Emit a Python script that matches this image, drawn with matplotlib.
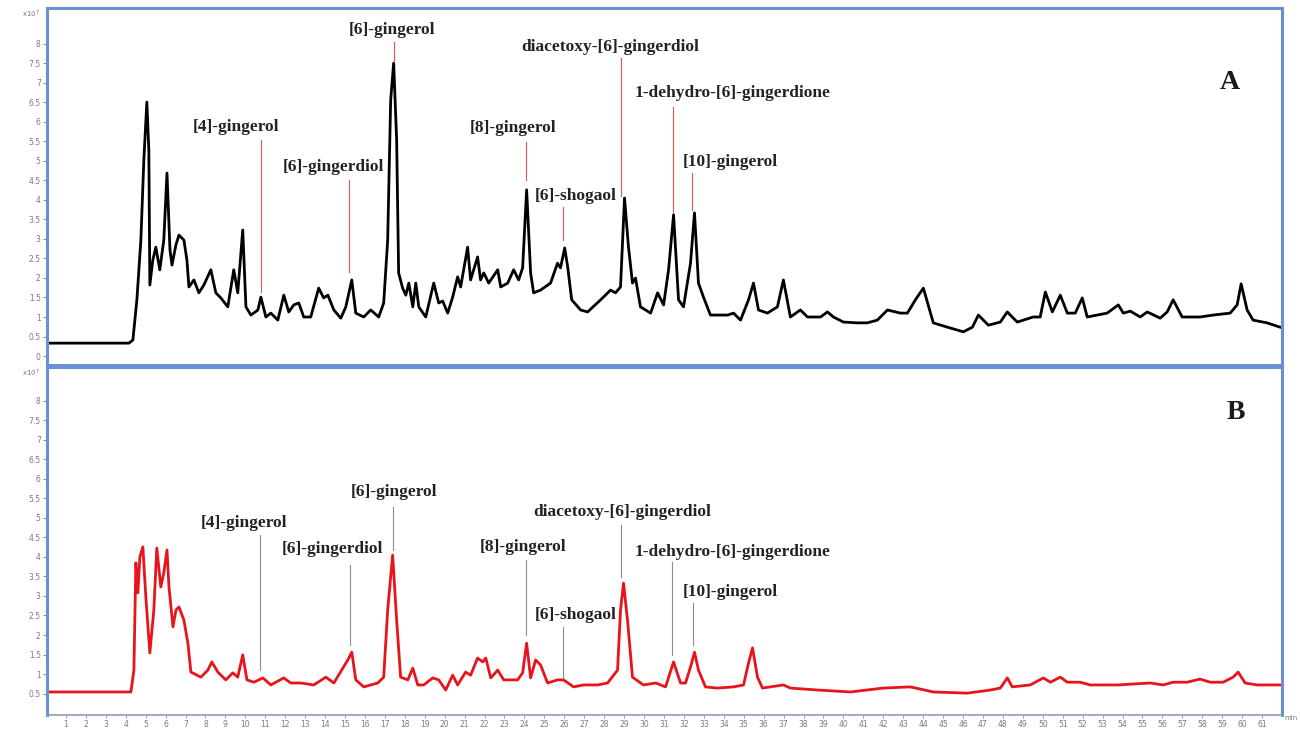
import matplotlib
matplotlib.use("Agg")
import matplotlib.pyplot as plt
import numpy as np

# | Data |---------------------------------------------------------------------|
# retention time (min) and intensity (x10^7), trace A (black)
time_a = [0.10, 4.16, 4.36, 4.56, 4.76, 4.91, 5.06, 5.16, 5.21, 5.36, 5.51, 5.71, 5.91, 6.07,
          6.22, 6.32, 6.52, 6.67, 6.92, 7.07, 7.17, 7.42, 7.67, 7.92, 8.27, 8.52, 8.77, 9.12,
          9.42, 9.62, 9.87, 10.03, 10.28, 10.63, 10.78, 11.03, 11.28, 11.63, 11.93, 12.18,
          12.43, 12.68, 12.93, 13.28, 13.68, 13.93, 14.14, 14.44, 14.79, 15.04, 15.34, 15.54,
          15.94, 16.29, 16.69, 16.94, 17.14, 17.29, 17.44, 17.59, 17.69, 17.89, 18.05, 18.20,
          18.40, 18.55, 18.70, 19.05, 19.45, 19.70, 19.90, 20.15, 20.40, 20.65, 20.80, 21.15,
          21.30, 21.65, 21.80, 21.96, 22.21, 22.66, 22.81, 23.16, 23.46, 23.71, 23.91, 24.11,
          24.31, 24.46, 24.81, 25.31, 25.66, 25.81, 26.02, 26.17, 26.37, 26.82, 27.17, 27.82,
          28.32, 28.57, 28.82, 29.02, 29.22, 29.42, 29.57, 29.82, 30.33, 30.68, 30.98, 31.23,
          31.48, 31.73, 31.98, 32.33, 32.53, 32.73, 32.98, 33.33, 34.19, 34.49, 34.84, 35.24,
          35.49, 35.74, 36.19, 36.69, 36.99, 37.34, 37.84, 38.20, 38.85, 39.20, 39.50, 40.00,
          40.70, 41.20, 41.70, 42.21, 42.86, 43.21, 43.61, 44.01, 44.51, 45.21, 46.02, 46.47,
          46.77, 47.27, 47.87, 48.22, 48.72, 49.52, 49.87, 50.13, 50.48, 50.88, 51.23, 51.63,
          51.98, 52.23, 52.73, 53.23, 53.79, 54.04, 54.39, 54.89, 55.24, 55.89, 56.24, 56.54,
          56.99, 57.89, 58.55, 59.40, 59.75, 59.95, 60.25, 60.55, 61.25, 61.90]
int_a = [0.33, 0.33, 0.41, 1.44, 2.97, 5.03, 6.51, 5.28, 1.82, 2.46, 2.79, 2.21, 2.97, 4.69,
         2.72, 2.33, 2.85, 3.10, 2.97, 2.46, 1.77, 1.95, 1.62, 1.82, 2.21, 1.62, 1.49, 1.26,
         2.21, 1.62, 3.23, 1.26, 1.05, 1.18, 1.51, 1.00, 1.10, 0.92, 1.56, 1.13,
         1.31, 1.36, 1.00, 1.00, 1.74, 1.49, 1.56, 1.18, 0.97, 1.26, 1.95, 1.10,
         1.00, 1.18, 1.00, 1.36, 2.97, 6.56, 7.51, 5.54, 2.13, 1.74, 1.56, 1.87,
         1.26, 1.87, 1.26, 1.00, 1.87, 1.36, 1.41, 1.10, 1.51, 2.03, 1.77, 2.79,
         1.95, 2.54, 1.95, 2.13, 1.87, 2.21, 1.77, 1.87, 2.21, 1.95, 2.26, 4.26,
         2.13, 1.62, 1.69, 1.87, 2.38, 2.26, 2.77, 2.28, 1.44, 1.18, 1.13, 1.44,
         1.69, 1.62, 1.77, 4.05, 2.79, 1.87, 2.00, 1.26, 1.10, 1.62, 1.31, 2.21,
         3.62, 1.44, 1.26, 2.38, 3.67, 1.87, 1.51, 1.05, 1.05, 1.10, 0.92, 1.44,
         1.87, 1.18, 1.10, 1.26, 1.95, 1.00, 1.18, 1.00, 1.00, 1.13, 1.00, 0.87,
         0.85, 0.85, 0.92, 1.18, 1.10, 1.10, 1.44, 1.74, 0.85, 0.74, 0.62, 0.74,
         1.05, 0.79, 0.87, 1.13, 0.87, 1.00, 1.00, 1.64, 1.13, 1.56, 1.10, 1.10,
         1.49, 1.00, 1.05, 1.10, 1.31, 1.10, 1.15, 1.00, 1.13, 0.97, 1.13, 1.44,
         1.00, 1.00, 1.05, 1.10, 1.31, 1.85, 1.18, 0.92, 0.85, 0.74]

# trace B (red)
time_b = [0.10, 4.26, 4.41, 4.51, 4.61, 4.71, 4.86, 5.01, 5.21, 5.41, 5.56, 5.76, 5.91, 6.07,
          6.17, 6.37, 6.52, 6.67, 6.92, 7.12, 7.27, 7.77, 8.12, 8.32, 8.62, 9.02, 9.37, 9.62,
          9.87, 10.08, 10.43, 10.88, 11.28, 11.93, 12.28, 12.78, 13.43, 14.04, 14.44, 15.14,
          15.34, 15.54, 15.94, 16.64, 16.94, 17.14, 17.39, 17.59, 17.79, 18.15, 18.40, 18.65,
          18.95, 19.40, 19.70, 20.05, 20.40, 20.65, 21.05, 21.30, 21.65, 21.91, 22.06, 22.31,
          22.66, 22.96, 23.66, 23.91, 24.11, 24.31, 24.56, 24.81, 25.16, 25.66, 25.96, 26.47,
          26.97, 27.67, 28.17, 28.67, 28.82, 28.97, 29.17, 29.42, 29.97, 30.58, 31.08, 31.48,
          31.83, 32.08, 32.33, 32.53, 32.73, 33.08, 33.68, 34.49, 34.99, 35.24, 35.44, 35.69,
          35.94, 36.99, 37.34, 38.70, 40.35, 42.00, 43.36, 44.51, 46.22, 47.37, 47.87, 48.22,
          48.47, 49.37, 50.03, 50.38, 50.88, 51.23, 51.88, 52.38, 53.74, 55.39, 56.04, 56.54,
          57.24, 57.89, 58.40, 59.05, 59.55, 59.80, 60.15, 60.75, 61.90]
int_b = [0.54, 0.54, 1.10, 3.85, 3.08, 4.00, 4.26, 2.97, 1.54, 2.64, 4.23, 3.23, 3.59, 4.18,
         3.23, 2.21, 2.64, 2.72, 2.38, 1.79, 1.05, 0.92, 1.10, 1.31, 1.05, 0.85, 1.03, 0.92,
         1.49, 0.85, 0.79, 0.90, 0.72, 0.90, 0.77, 0.77, 0.72, 0.92, 0.77, 1.36,
         1.56, 0.85, 0.67, 0.77, 0.92, 2.64, 4.05, 2.38, 0.92, 0.85, 1.15, 0.72,
         0.72, 0.90, 0.85, 0.59, 0.97, 0.72, 1.05, 0.97, 1.41, 1.31, 1.41, 0.90,
         1.10, 0.85, 0.85, 1.03, 1.79, 0.90, 1.36, 1.23, 0.77, 0.85, 0.85, 0.67,
         0.72, 0.72, 0.77, 1.10, 2.64, 3.33, 2.38, 0.92, 0.72, 0.77, 0.67, 1.31,
         0.77, 0.77, 1.18, 1.56, 1.10, 0.67, 0.64, 0.67, 0.72, 1.28, 1.67, 0.92,
         0.64, 0.72, 0.64, 0.59, 0.54, 0.64, 0.67, 0.54, 0.51, 0.59, 0.64, 0.90,
         0.67, 0.72, 0.90, 0.79, 0.92, 0.79, 0.79, 0.72, 0.72, 0.77, 0.72, 0.79,
         0.79, 0.87, 0.79, 0.79, 0.92, 1.05, 0.77, 0.72, 0.72]

compounds = ["[4]-gingerol", "[6]-gingerdiol", "[6]-gingerol", "[8]-gingerol",
             "[6]-shogaol", "diacetoxy-[6]-gingerdiol", "1-dehydro-[6]-gingerdione",
             "[10]-gingerol"]
peak_time_a = [10.79, 15.19, 17.44, 24.06, 25.91, 28.82, 31.43, 32.43]
peak_time_b = [10.73, 15.24, 17.39, 24.06, 25.91, 28.82, 31.38, 32.48]

x_ticks = list(range(1, 62))
y_ticks_a = [0, 0.5, 1, 1.5, 2, 2.5, 3, 3.5, 4, 4.5, 5, 5.5, 6, 6.5, 7, 7.5, 8]
y_ticks_b = y_ticks_a[1:]

# | Layout |-------------------------------------------------------------------|
# per annotation: line top, line bottom, label x, label y (data coords)
layout_a = [(5.54, 1.64, 9.52, 5.87), (4.51, 2.15, 14.44, 4.85), (8.05, 7.54, 17.34, 8.36),
            (5.49, 4.51, 23.41, 5.85), (3.82, 2.97, 26.57, 4.10), (7.64, 4.10, 28.32, 7.92),
            (6.38, 3.69, 34.44, 6.74), (4.69, 3.74, 34.34, 4.97)]
layout_b = [(4.56, 1.10, 9.92, 4.87), (3.79, 1.74, 14.39, 4.21), (5.28, 4.18, 17.44, 5.67),
            (3.92, 2.00, 23.91, 4.26), (2.21, 0.90, 26.57, 2.51), (4.82, 3.49, 28.92, 5.15),
            (3.87, 1.49, 34.44, 4.13), (2.82, 1.74, 34.34, 3.10)]

FRAME = "#6a8fd3"
TICK_GREY = "#7a7a7a"
LABEL_FONT = dict(family="Liberation Serif", fontweight="bold", fontsize=12.5, color="#222222")

fig = plt.figure(figsize=(13.01, 7.31), dpi=100)
ax_a = fig.add_axes([0.0361, 0.5007, 0.9493, 0.4883])
ax_b = fig.add_axes([0.0361, 0.0219, 0.9493, 0.4761])


def style_axes(ax: plt.Axes, yticks: list, ylim: tuple) -> None:
    ax.set_xlim(0.05, 62.0)
    ax.set_ylim(*ylim)
    ax.set_yticks(yticks)
    ax.set_yticklabels([f"{v:g}" for v in yticks])
    ax.tick_params(axis="y", direction="out", length=3, width=0.6, color=TICK_GREY,
                   labelsize=5.5, labelcolor=TICK_GREY, pad=1.5)
    for side in ["left", "right", "top", "bottom"]:
        ax.spines[side].set_color(FRAME)
        ax.spines[side].set_linewidth(2.2)
    ax.text(-0.006, 1.0 - 0.018, r"x10$^7$", transform=ax.transAxes, ha="right", va="center",
            fontsize=5, color=TICK_GREY)


style_axes(ax_a, y_ticks_a, (-0.23, 8.92))
ax_a.set_xticks([])
ax_a.plot(time_a, int_a, color="black", linewidth=2.0, solid_joinstyle="round")
for name, t, (top, bot, lx, ly) in zip(compounds, peak_time_a, layout_a):
    ax_a.plot([t, t], [bot, top], color="#e8534f", linewidth=0.8)
    ax_a.text(lx, ly, name, ha="center", va="center", **LABEL_FONT)
ax_a.text(59.4, 7.0, "A", ha="center", va="center", family="Liberation Serif",
          fontweight="bold", fontsize=20, color="#1a1a1a")

style_axes(ax_b, y_ticks_b, (-0.05, 8.87))
ax_b.plot(time_b, int_b, color="#e8141c", linewidth=2.0, solid_joinstyle="round")
for name, t, (top, bot, lx, ly) in zip(compounds, peak_time_b, layout_b):
    ax_b.plot([t, t], [bot, top], color="#8c8c8c", linewidth=0.8)
    ax_b.text(lx, ly, name, ha="center", va="center", **LABEL_FONT)
ax_b.text(59.7, 7.7, "B", ha="center", va="center", family="Liberation Serif",
          fontweight="bold", fontsize=20, color="#1a1a1a")

ax_b.spines["bottom"].set_color("#8e9cc0")
ax_b.spines["bottom"].set_linewidth(1.2)
ax_b.set_xticks(x_ticks)
ax_b.set_xticklabels([str(t) for t in x_ticks])
ax_b.tick_params(axis="x", direction="out", length=2, width=0.5, color=TICK_GREY,
                 labelsize=5.5, labelcolor=TICK_GREY, pad=1.5)
ax_b.text(62.1, -0.05, "min", ha="left", va="top", fontsize=5, color=TICK_GREY)

fig.savefig("out.png", dpi=100)
